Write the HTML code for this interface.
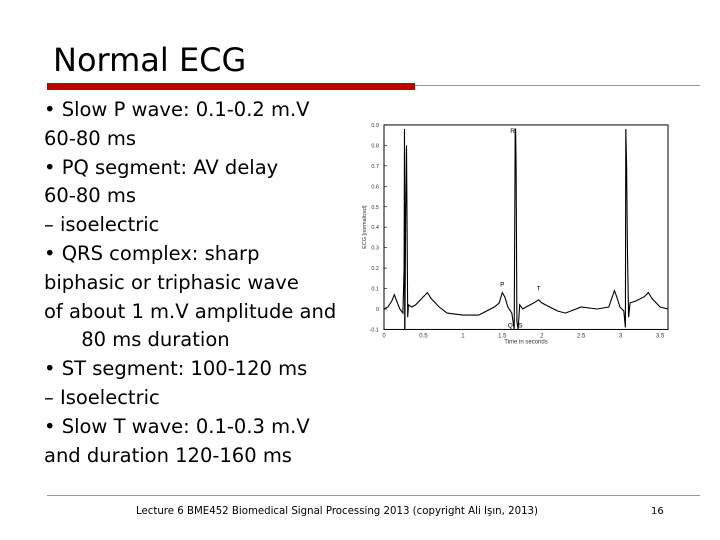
<!DOCTYPE html>
<html><head><meta charset="utf-8"><style>
body{margin:0;background:#fff}
#slide{position:relative;width:720px;height:540px;overflow:hidden;background:#fff;font-family:"DejaVu Sans","Liberation Sans",sans-serif}
#title{position:absolute;left:53px;top:41px;font-size:32px;color:#000}
#body{position:absolute;left:44px;top:96px;font-size:19.5px;line-height:28.8px;color:#000;white-space:pre}
#footer{position:absolute;left:0;width:674px;text-align:center;top:506px;font-size:10.2px}
#pnum{position:absolute;left:651px;top:506px;font-size:10px}
</style></head><body>
<div id="slide">
<div id="title">Normal ECG</div>
<div style="position:absolute;left:47px;top:83px;width:368px;height:7px;background:#c00000"></div>
<div style="position:absolute;left:415px;top:85px;width:285px;height:1px;background:#999"></div>
<div id="body">• Slow P wave: 0.1-0.2 m.V
60-80 ms
• PQ segment: AV delay
60-80 ms
– isoelectric
• QRS complex: sharp
biphasic or triphasic wave
of about 1 m.V amplitude and
      80 ms duration
• ST segment: 100-120 ms
– Isoelectric
• Slow T wave: 0.1-0.3 m.V
and duration 120-160 ms</div>
<svg id="chart" width="720" height="540" style="position:absolute;left:0;top:0" font-family="Liberation Sans, sans-serif"></svg>
<div style="position:absolute;left:47px;top:495px;width:653px;height:1px;background:#999"></div>
<div id="footer">Lecture 6 BME452 Biomedical Signal Processing 2013 (copyright Ali Işın, 2013)</div>
<div id="pnum">16</div>
</div>
<script>
const times=[0,0.05,0.1,0.13,0.16,0.2,0.24,0.255,0.26,0.262,0.265,0.275,0.285,0.3,0.31,0.35,0.4,0.5,0.55,0.6,0.65,0.7,0.8,1.0,1.2,1.3,1.4,1.46,1.5,1.53,1.57,1.62,1.65,1.663,1.668,1.675,1.685,1.7,1.72,1.76,1.8,1.9,1.96,2.0,2.1,2.2,2.3,2.5,2.7,2.85,2.92,2.95,2.99,3.04,3.06,3.065,3.075,3.085,3.1,3.12,3.2,3.3,3.35,3.4,3.5,3.6];
const values=[0,0.01,0.04,0.07,0.04,0,-0.02,0.2,0.88,-0.1,-0.1,0.5,0.8,-0.04,0.02,0.01,0.02,0.06,0.08,0.05,0.03,0.01,-0.02,-0.03,-0.03,-0.01,0.01,0.03,0.08,0.06,0.01,-0.02,-0.1,0.88,0.88,0.7,-0.06,-0.1,0.02,0,0.01,0.03,0.045,0.03,0.01,-0.01,-0.02,0.01,0,0.01,0.09,0.06,0.01,-0.01,-0.09,0.88,0.7,0.3,-0.04,0.03,0.04,0.06,0.08,0.05,0.01,0];
const yTicks=[-0.1,0,0.1,0.2,0.3,0.4,0.5,0.6,0.7,0.8,0.9];
const yTickLabels=["-0.1","0","0.1","0.2","0.3","0.4","0.5","0.6","0.7","0.8","0.9"];
const xTicks=[0,0.5,1,1.5,2,2.5,3,3.5];
const xTickLabels=["0","0.5","1","1.5","2","2.5","3","3.5"];
const waveLabels=["P","R","T","Q","S"];
const waveT=[1.5,1.63,1.96,1.6,1.73];
const waveV=[0.11,0.86,0.09,-0.09,-0.09];
const NS="http://www.w3.org/2000/svg";
const svg=document.getElementById('chart');
const X0=384,X1=668,T1=3.6,Y0=309,PY=204.5;
const xs=t=>X0+t/T1*(X1-X0);
const ys=v=>Y0-v*PY;
function mk(tag,attrs){const e=document.createElementNS(NS,tag);for(const k in attrs)e.setAttribute(k,attrs[k]);svg.appendChild(e);return e;}
let f=mk('rect',{x:X0,y:ys(0.9),width:X1-X0,height:ys(-0.1)-ys(0.9),fill:'none',stroke:'#000','stroke-width':1});


yTicks.forEach((v,i)=>{
 let t=mk('text',{x:X0-5,y:ys(v)+2,'font-size':5.5,'text-anchor':'end',fill:'#333'});t.textContent=yTickLabels[i];
 
 
 let l=mk('line',{x1:X0,x2:X0+3,y1:ys(v),y2:ys(v),stroke:'#000','stroke-width':0.6});
 
 
});
xTicks.forEach((v,i)=>{
 let t=mk('text',{x:xs(v),y:ys(-0.1)+8,'font-size':6,'text-anchor':'middle',fill:'#333'});t.textContent=xTickLabels[i];
 
 
});
let xl=mk('text',{x:xs(1.8),y:ys(-0.1)+14,'font-size':6,'text-anchor':'middle',fill:'#333'});xl.textContent='Time in seconds';


let yl=mk('text',{x:366,y:ys(0.4),'font-size':5.5,'text-anchor':'middle',fill:'#333',transform:`rotate(-90 366 ${ys(0.4)})`});yl.textContent='ECG [normalized]';


let d=times.map((t,i)=>(i?'L':'M')+xs(t).toFixed(1)+','+ys(values[i]).toFixed(1)).join('');
let p=mk('path',{d:d,fill:'none',stroke:'#000','stroke-width':1.1});


waveLabels.forEach((s,i)=>{
 let t=mk('text',{x:xs(waveT[i]),y:ys(waveV[i]),'font-size':6.5,'text-anchor':'middle',fill:'#000'});t.textContent=s;
 
 
});
</script>
</body></html>
